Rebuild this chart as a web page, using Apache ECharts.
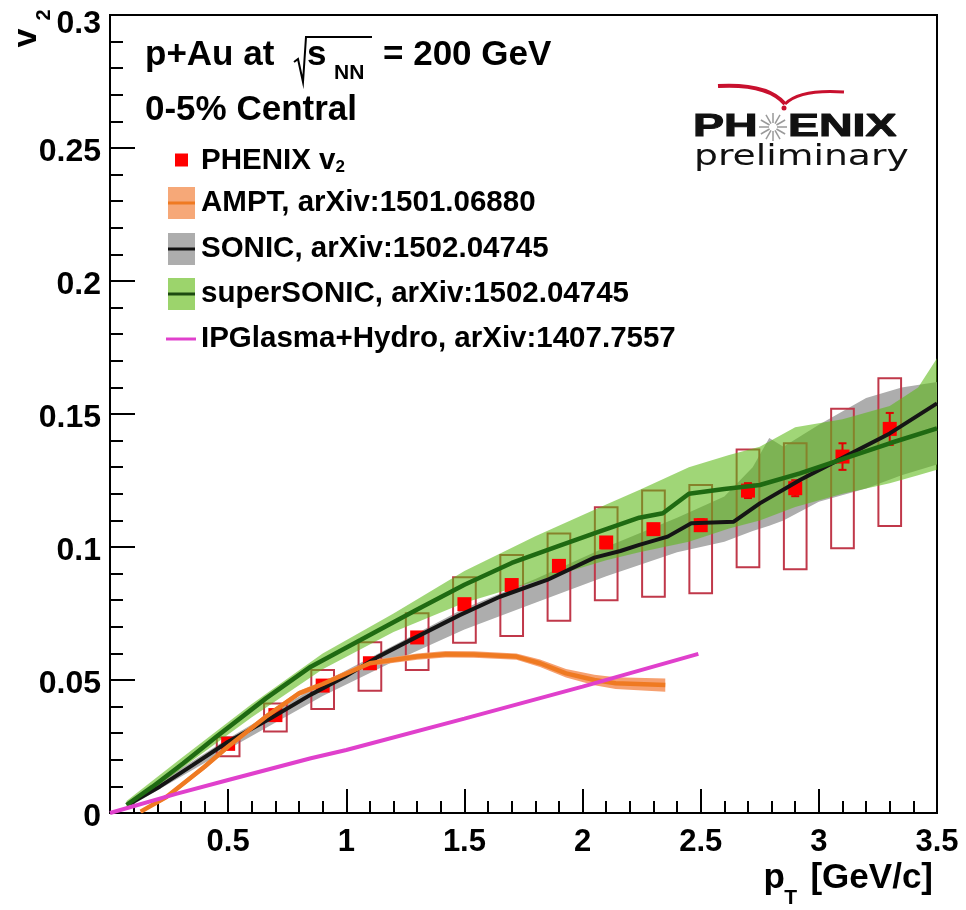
<!DOCTYPE html>
<html><head><meta charset="utf-8">
<script src="https://cdn.jsdelivr.net/npm/echarts@6/dist/echarts.min.js"></script>
<style>html,body{margin:0;padding:0;background:#fff}#c{width:966px;height:910px}</style>
</head><body><div id="c"></div>
<script>
// ---- PHENIX data ----
const ptX   = [0.5,0.7,0.9,1.1,1.3,1.5,1.7,1.9,2.1,2.3,2.5,2.7,2.9,3.1,3.3];
const v2    = [0.026,0.0368,0.0479,0.0563,0.066,0.0785,0.0857,0.0929,0.1017,0.1067,0.1082,0.1212,0.1221,0.134,0.1444];
const statErr = [0.0008,0.0008,0.001,0.001,0.0012,0.0012,0.0014,0.0015,0.0017,0.002,0.0022,0.0028,0.003,0.005,0.006];
const sysLo = [0.0213,0.0306,0.0391,0.046,0.0538,0.064,0.0665,0.0723,0.0800,0.0813,0.0826,0.0924,0.0916,0.0995,0.1079];
const sysHi = [0.0285,0.0412,0.0538,0.0642,0.0751,0.0886,0.097,0.1051,0.1149,0.1212,0.1233,0.1367,0.139,0.152,0.1634];

// ---- AMPT ----
const amptX = [0.13,0.24,0.4,0.5,0.66,0.8,0.9,1.1,1.3,1.42,1.54,1.72,1.82,1.93,2.05,2.14,2.35];
const amptY = [0.0005,0.0061,0.0174,0.025,0.0362,0.045,0.0485,0.0563,0.0588,0.0597,0.0596,0.0588,0.0563,0.0525,0.050,0.0488,0.0481];
const amptErr = [0.0006,0.0008,0.001,0.001,0.001,0.001,0.001,0.001,0.0012,0.0012,0.0012,0.0012,0.0014,0.0016,0.002,0.0022,0.0025];

// ---- SONIC ----
const sonicX = [0.085,0.21,0.35,0.5,0.68,0.85,0.99,1.13,1.3,1.48,1.65,1.85,2.05,2.16,2.24,2.36,2.46,2.64,2.75,2.92,3.1,3.3,3.5];
const sonicY = [0.0036,0.0099,0.018,0.0268,0.0356,0.0445,0.051,0.0585,0.0663,0.0744,0.0813,0.0876,0.096,0.0985,0.1008,0.1039,0.1089,0.1095,0.1164,0.1252,0.1335,0.1427,0.154];
const sonicBandX  = [0.085,0.5,0.9,1.2,1.5,1.8,2.1,2.4,2.6,2.72,2.79,2.85,3.0,3.2,3.35,3.5];
const sonicBandHi = [0.0045,0.028,0.049,0.063,0.077,0.088,0.100,0.111,0.119,0.130,0.141,0.1377,0.146,0.156,0.160,0.162];
const sonicBandLo = [0.0025,0.024,0.044,0.057,0.069,0.079,0.089,0.098,0.102,0.106,0.108,0.110,0.117,0.122,0.127,0.131];

// ---- superSONIC ----
const ssX = [0.07,0.18,0.31,0.45,0.66,0.85,1.06,1.3,1.5,1.7,1.9,2.07,2.24,2.34,2.45,2.6,2.75,2.92,3.1,3.3,3.5];
const ssY = [0.003,0.0099,0.0187,0.0287,0.0431,0.055,0.065,0.0765,0.0858,0.094,0.1004,0.1058,0.1110,0.1127,0.1200,0.1218,0.1233,0.1277,0.1330,0.1390,0.1446];
const ssBandX  = [0.07,0.3,0.6,0.9,1.2,1.5,1.8,2.1,2.24,2.45,2.62,2.75,2.9,3.1,3.3,3.42,3.5];
const ssBandHi = [0.0045,0.0205,0.041,0.060,0.075,0.091,0.104,0.116,0.1214,0.130,0.1346,0.1377,0.145,0.148,0.153,0.160,0.171];
const ssBandLo = [0.0015,0.0165,0.036,0.054,0.068,0.079,0.087,0.095,0.098,0.102,0.107,0.110,0.115,0.120,0.124,0.127,0.129];

// ---- IPGlasma+Hydro ----
const ipgX = [0,0.28,0.5,0.85,1.0,1.5,2.0,2.49];
const ipgY = [0,0.0072,0.0124,0.0206,0.0237,0.0355,0.0475,0.0598];

// ---- axes ----
const xMin = 0, xMax = 3.5, xStep = 0.5;
const yMin = 0, yMax = 0.3, yStep = 0.05;

const FONT = 'Liberation Sans';
const BOX_HALF = 0.048;

function bandSeries(name, xs, lo, hi, color) {
  return {
    type: 'custom', name, silent: true, clip: true,
    data: xs.map((x, i) => [x, lo[i], hi[i]]),
    encode: { x: 0, y: [1, 2] },
    renderItem(params, api) {
      if (params.dataIndex !== 0) return null;
      const top = xs.map((x, i) => api.coord([x, hi[i]]));
      const bot = xs.map((x, i) => api.coord([x, lo[i]])).reverse();
      return { type: 'polygon', shape: { points: top.concat(bot) }, style: { fill: color } };
    }
  };
}
function lineSeries(name, xs, ys, color, w) {
  return {
    type: 'line', name, silent: true, showSymbol: false, symbol: 'none',
    data: xs.map((x, i) => [x, ys[i]]),
    lineStyle: { color, width: w, opacity: 1 }, itemStyle: { color }
  };
}

const chart = echarts.init(document.getElementById('c'), null, { renderer: 'canvas' });

const txt = (o) => Object.assign({ type: 'text', silent: true }, o);
const LEG_FS = 29.5;

const legendY = [160, 203, 249, 294, 339];
const graphic = [
  // v2 axis title
  txt({ x: 27, y: 38, rotation: Math.PI / 2, style: { text: 'v', fontSize: 34, fontWeight: 'bold', fontFamily: FONT, fill: '#000', align: 'center', verticalAlign: 'middle' } }),
  txt({ x: 44, y: 15, rotation: Math.PI / 2, style: { text: '2', fontSize: 20, fontWeight: 'bold', fontFamily: FONT, fill: '#000', align: 'center', verticalAlign: 'middle' } }),
  // pT axis title
  txt({ x: 785, y: 878, style: { text: 'p', fontSize: 35, fontWeight: 'bold', fontFamily: FONT, fill: '#000', align: 'right', verticalAlign: 'middle' } }),
  txt({ x: 797, y: 898, style: { text: 'T', fontSize: 21, fontWeight: 'bold', fontFamily: FONT, fill: '#000', align: 'right', verticalAlign: 'middle' } }),
  txt({ x: 933, y: 878, style: { text: '[GeV/c]', fontSize: 35, fontWeight: 'bold', fontFamily: FONT, fill: '#000', align: 'right', verticalAlign: 'middle' } }),
  // title
  txt({ x: 145, y: 55, style: { text: 'p+Au at', fontSize: 35, fontWeight: 'bold', fontFamily: FONT, fill: '#000', verticalAlign: 'middle' } }),
  { type: 'polyline', silent: true, shape: { points: [[294, 62], [298, 59], [303, 82], [306, 37], [372, 37]] }, style: { stroke: '#000', lineWidth: 2, fill: null } },
  txt({ x: 307, y: 55, style: { text: 's', fontSize: 35, fontWeight: 'bold', fontFamily: FONT, fill: '#000', verticalAlign: 'middle' } }),
  txt({ x: 334, y: 73, style: { text: 'NN', fontSize: 21, fontWeight: 'bold', fontFamily: FONT, fill: '#000', verticalAlign: 'middle' } }),
  txt({ x: 383, y: 55, style: { text: '= 200 GeV', fontSize: 35, fontWeight: 'bold', fontFamily: FONT, fill: '#000', verticalAlign: 'middle' } }),
  txt({ x: 145, y: 110, style: { text: '0-5% Central', fontSize: 35, fontWeight: 'bold', fontFamily: FONT, fill: '#000', verticalAlign: 'middle' } }),
  // legend
  { type: 'rect', silent: true, shape: { x: 175, y: legendY[0] - 6.5, width: 13, height: 13 }, style: { fill: '#ff0000' } },
  txt({ x: 201, y: legendY[0], style: { text: '{a|PHENIX v}{s|2}', fill: '#000', verticalAlign: 'middle',
    rich: { a: { fontSize: LEG_FS, fontWeight: 'bold', fontFamily: FONT, lineHeight: 32, verticalAlign: 'bottom' },
            s: { fontSize: 17, fontWeight: 'bold', fontFamily: FONT, lineHeight: 12, verticalAlign: 'bottom' } } } }),
  { type: 'rect', silent: true, shape: { x: 168, y: legendY[1] - 16, width: 27, height: 32 }, style: { fill: '#f6a878' } },
  { type: 'line', silent: true, shape: { x1: 168, y1: legendY[1], x2: 195, y2: legendY[1] }, style: { stroke: '#ef7a22', lineWidth: 3 } },
  txt({ x: 201, y: legendY[1], style: { text: 'AMPT, arXiv:1501.06880', fontSize: LEG_FS, fontWeight: 'bold', fontFamily: FONT, fill: '#000', verticalAlign: 'middle' } }),
  { type: 'rect', silent: true, shape: { x: 168, y: legendY[2] - 16, width: 27, height: 32 }, style: { fill: '#adadad' } },
  { type: 'line', silent: true, shape: { x1: 168, y1: legendY[2], x2: 195, y2: legendY[2] }, style: { stroke: '#111', lineWidth: 3 } },
  txt({ x: 201, y: legendY[2], style: { text: 'SONIC, arXiv:1502.04745', fontSize: LEG_FS, fontWeight: 'bold', fontFamily: FONT, fill: '#000', verticalAlign: 'middle' } }),
  { type: 'rect', silent: true, shape: { x: 168, y: legendY[3] - 16, width: 27, height: 32 }, style: { fill: '#9cd46c' } },
  { type: 'line', silent: true, shape: { x1: 168, y1: legendY[3], x2: 195, y2: legendY[3] }, style: { stroke: '#1c4a10', lineWidth: 3 } },
  txt({ x: 201, y: legendY[3], style: { text: 'superSONIC, arXiv:1502.04745', fontSize: LEG_FS, fontWeight: 'bold', fontFamily: FONT, fill: '#000', verticalAlign: 'middle' } }),
  { type: 'line', silent: true, shape: { x1: 166, y1: legendY[4], x2: 196, y2: legendY[4] }, style: { stroke: '#e040cc', lineWidth: 3 } },
  txt({ x: 201, y: legendY[4], style: { text: 'IPGlasma+Hydro, arXiv:1407.7557', fontSize: LEG_FS, fontWeight: 'bold', fontFamily: FONT, fill: '#000', verticalAlign: 'middle' } }),
  // PHENIX logo
  { type: 'bezierCurve', silent: true, shape: { x1: 718, y1: 86, cpx1: 755, cpy1: 84, cpx2: 775, cpy2: 92, x2: 785, y2: 104 }, style: { stroke: '#c8102e', lineWidth: 4, fill: null } },
  { type: 'bezierCurve', silent: true, shape: { x1: 785, y1: 104, cpx1: 795, cpy1: 94, cpx2: 815, cpy2: 90, x2: 844, y2: 92 }, style: { stroke: '#c8102e', lineWidth: 3, fill: null } },
  { type: 'circle', silent: true, shape: { cx: 784, cy: 108, r: 2.5 }, style: { fill: '#c8102e' } },
  txt({ x: 693, y: 127, scaleX: 1.5, style: { text: 'PH', fontSize: 31, fontWeight: 'bold', fontFamily: FONT, fill: '#111', stroke: '#111', lineWidth: 1, verticalAlign: 'middle' } }),
  txt({ x: 788, y: 127, scaleX: 1.5, style: { text: 'ENIX', fontSize: 31, fontWeight: 'bold', fontFamily: FONT, fill: '#111', stroke: '#111', lineWidth: 1, verticalAlign: 'middle' } }),
  txt({ x: 694, y: 157, scaleX: 1.3, style: { text: 'preliminary', fontSize: 29, fontFamily: 'DejaVu Sans', fill: '#111', verticalAlign: 'middle' } })
];
// star rays of the logo
for (let k = 0; k < 12; k++) {
  const a = k * Math.PI / 6;
  graphic.push({ type: 'line', silent: true, shape: { x1: 773 + 4 * Math.cos(a), y1: 127 + 4 * Math.sin(a), x2: 773 + 14 * Math.cos(a), y2: 127 + 14 * Math.sin(a) }, style: { stroke: '#999', lineWidth: 1.5 } });
}

const option = {
  animation: false,
  backgroundColor: '#fff',
  grid: { left: 110, right: 29, top: 15, bottom: 97, show: true, borderColor: '#000', borderWidth: 2, backgroundColor: 'transparent', outerBoundsMode: 'none', containLabel: false },
  xAxis: {
    type: 'value', min: xMin, max: xMax, interval: xStep,
    axisLine: { show: true, onZero: false, lineStyle: { color: '#000', width: 2 } },
    axisTick: { show: true, inside: true, length: 24, lineStyle: { color: '#000', width: 2 } },
    minorTick: { show: true, splitNumber: 5, length: 12, lineStyle: { color: '#000', width: 2 } },
    splitLine: { show: false }, minorSplitLine: { show: false },
    axisLabel: { margin: 14, fontSize: 31, fontWeight: 'bold', fontFamily: FONT, color: '#000',
      formatter: v => (Math.abs(v) < 1e-9 ? '' : String(+v.toFixed(2))) }
  },
  yAxis: {
    type: 'value', min: yMin, max: yMax, interval: yStep,
    axisLine: { show: true, onZero: false, lineStyle: { color: '#000', width: 2 } },
    axisTick: { show: true, inside: true, length: 25, lineStyle: { color: '#000', width: 2 } },
    minorTick: { show: true, splitNumber: 5, length: 13, lineStyle: { color: '#000', width: 2 } },
    splitLine: { show: false }, minorSplitLine: { show: false },
    axisLabel: { margin: 9, fontSize: 32, fontWeight: 'bold', fontFamily: FONT, color: '#000', padding: [8, 0, 0, 0],
      formatter: v => (Math.abs(v - yMax) < 1e-9 ? '{t|' + String(+v.toFixed(3)) + '}' : String(+v.toFixed(3))),
      rich: { t: { fontSize: 32, fontWeight: 'bold', fontFamily: FONT, color: '#000', padding: [10, 0, 0, 0] } } }
  },
  graphic,
  series: [
    bandSeries('SONIC band', sonicBandX, sonicBandLo, sonicBandHi, '#adadad'),
    lineSeries('SONIC', sonicX, sonicY, '#151515', 4),
    {
      type: 'custom', name: 'PHENIX sys', silent: true,
      data: ptX.map((x, i) => [x, sysLo[i], sysHi[i]]),
      encode: { x: 0, y: [1, 2] },
      renderItem(params, api) {
        const x = api.value(0);
        const p1 = api.coord([x - BOX_HALF, api.value(2)]);
        const p2 = api.coord([x + BOX_HALF, api.value(1)]);
        return { type: 'rect', shape: { x: p1[0], y: p1[1], width: p2[0] - p1[0], height: p2[1] - p1[1] },
                 style: { fill: null, stroke: '#c0384a', lineWidth: 2 } };
      }
    },
    bandSeries('superSONIC band', ssBandX, ssBandLo, ssBandHi, 'rgba(92,184,20,0.58)'),
    lineSeries('superSONIC', ssX, ssY, '#1f6a12', 4.5),
    bandSeries('AMPT band', amptX, amptY.map((y, i) => y - amptErr[i]), amptY.map((y, i) => y + amptErr[i]), '#f6a070'),
    lineSeries('AMPT', amptX, amptY, '#ef7a22', 4.5),
    lineSeries('IPGlasma+Hydro', ipgX, ipgY, '#e040cc', 4),
    {
      type: 'custom', name: 'PHENIX stat', silent: true,
      data: ptX.map((x, i) => [x, v2[i] - statErr[i], v2[i] + statErr[i]]),
      encode: { x: 0, y: [1, 2] },
      renderItem(params, api) {
        const x = api.value(0);
        const a = api.coord([x, api.value(1)]);
        const b = api.coord([x, api.value(2)]);
        return { type: 'group', children: [
          { type: 'line', shape: { x1: a[0], y1: a[1], x2: b[0], y2: b[1] }, style: { stroke: '#e00000', lineWidth: 2 } },
          { type: 'line', shape: { x1: a[0] - 4, y1: a[1], x2: a[0] + 4, y2: a[1] }, style: { stroke: '#e00000', lineWidth: 2 } },
          { type: 'line', shape: { x1: b[0] - 4, y1: b[1], x2: b[0] + 4, y2: b[1] }, style: { stroke: '#e00000', lineWidth: 2 } }
        ] };
      }
    },
    {
      type: 'scatter', name: 'PHENIX v2', silent: true,
      data: ptX.map((x, i) => [x, v2[i]]),
      symbol: 'rect', symbolSize: 14, itemStyle: { color: '#ff0000', opacity: 1 }
    }
  ]
};
chart.setOption(option);
</script>
</body></html>
